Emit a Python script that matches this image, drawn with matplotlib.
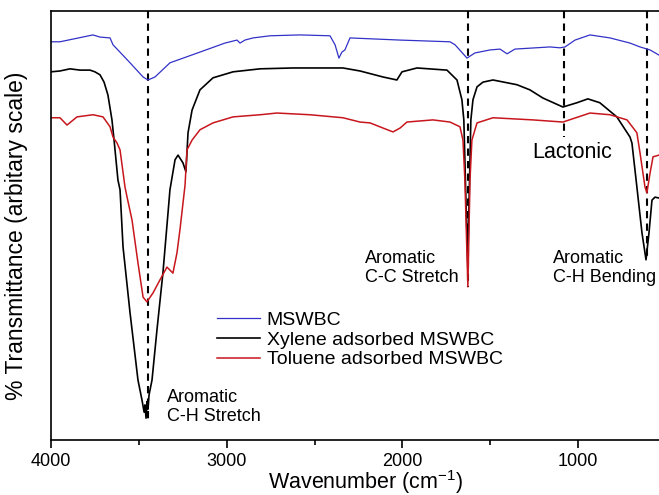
import numpy as np
import matplotlib
matplotlib.use("Agg")
import matplotlib.pyplot as plt

plt.rcParams['font.family'] = ['Liberation Sans', 'DejaVu Sans']
plt.rcParams['mathtext.fontset'] = 'custom'
plt.rcParams['mathtext.rm'] = 'Liberation Sans'
plt.rcParams['mathtext.default'] = 'regular'

# -----------------------------------------------------------
# DATA (arbitrary units)
# -----------------------------------------------------------
wn_mswbc = [4000, 3949, 3761, 3721, 3664, 3647, 3550, 3476, 3448, 3408, 3323, 3152,
            3010, 2941, 2924, 2896, 2850, 2753, 2583, 2412, 2383, 2361, 2344, 2327,
            2298, 2013, 1729, 1700, 1632, 1587, 1501, 1444, 1404, 1359, 1160, 1103,
            1074, 1017, 932, 818, 704, 647, 590, 539, 505]
t_mswbc = [92.8, 92.8, 94.4, 93.9, 93.7, 92.1, 87.9, 84.6, 83.9, 84.6, 87.9, 90.4,
           92.5, 93.2, 92.5, 93.2, 93.7, 94.2, 94.4, 94.2, 92.1, 89.0, 90.4, 90.9,
           93.7, 93.2, 92.8, 92.1, 89.0, 90.2, 90.9, 91.1, 90.0, 91.1, 91.6, 91.4,
           91.6, 93.2, 94.4, 93.7, 92.5, 91.6, 90.9, 89.7, 89.3]

wn_xylene = [4000, 3949, 3892, 3835, 3778, 3750, 3721, 3698, 3676, 3653, 3641, 3619,
             3607, 3590, 3550, 3505, 3482, 3470, 3465, 3459, 3453, 3448, 3442, 3425,
             3397, 3363, 3334, 3323, 3294, 3277, 3249, 3232, 3220, 3197, 3152, 3078,
             2964, 2810, 2622, 2338, 2241, 2110, 2031, 2002, 1917, 1746, 1689, 1661,
             1650, 1638, 1628, 1620, 1610, 1598, 1575, 1541, 1484, 1348, 1274, 1200,
             1086, 1006, 944, 876, 779, 704, 693, 665, 636, 613, 596, 579, 562, 539, 505]
t_xylene = [85.8, 86.0, 86.5, 86.2, 86.2, 85.8, 85.1, 83.4, 80.4, 74.6, 69.9, 60.6,
            58.3, 45.0, 29.6, 14.0, 9.3, 6.5, 8.2, 5.1, 9.0, 7.2, 10.5, 14.0,
            25.6, 38.9, 52.9, 58.3, 65.3, 66.4, 64.6, 62.5, 71.6, 76.9, 81.6, 84.4,
            85.8, 86.5, 86.7, 86.7, 86.0, 84.6, 83.9, 85.8, 86.7, 86.2, 83.9, 79.3,
            74.6, 55.9, 41.5, 55.9, 74.6, 79.3, 82.3, 83.4, 83.9, 82.8, 81.6, 79.7,
            77.6, 78.6, 79.5, 78.6, 75.3, 70.6, 69.2, 59.0, 48.3, 42.0, 48.3, 55.9, 56.6, 56.4, 55.9]

wn_toluene = [4000, 3949, 3909, 3852, 3761, 3704, 3664, 3647, 3624, 3607, 3579, 3567,
              3539, 3505, 3476, 3454, 3419, 3380, 3340, 3306, 3283, 3266, 3237, 3226,
              3197, 3152, 3078, 2964, 2810, 2714, 2526, 2338, 2241, 2184, 2110, 2053,
              2013, 1974, 1826, 1729, 1672, 1655, 1644, 1627, 1615, 1604, 1575, 1484,
              1257, 1086, 932, 818, 721, 665, 647, 619, 608, 590, 573, 539, 505]
t_toluene = [75.1, 75.1, 73.4, 75.3, 75.8, 75.3, 73.0, 70.6, 69.2, 67.6, 59.0, 56.6,
             51.3, 41.3, 33.3, 32.2, 34.3, 37.3, 40.3, 38.9, 43.6, 49.0, 59.4, 67.6,
             69.9, 72.3, 73.9, 75.3, 75.8, 76.2, 75.8, 75.1, 74.1, 73.9, 72.7, 71.8,
             72.7, 74.1, 74.6, 74.1, 73.0, 69.9, 60.6, 35.7, 60.6, 69.9, 73.9, 75.1,
             74.6, 74.1, 76.2, 75.8, 74.6, 71.6, 66.9, 59.0, 57.6, 62.2, 66.0, 66.4, 66.4]

# band markers: position and how far down the dashed line runs
band_pos = [3450, 1627, 1080, 608]
band_end = [4.9, 35.7, 70.6, 42.0]

labels = ["MSWBC", "Xylene adsorbed MSWBC", "Toluene adsorbed MSWBC"]
colors = ["#3232c8", "#000000", "#c8161d"]

# -----------------------------------------------------------
# PLOT
# -----------------------------------------------------------
fig = plt.figure(figsize=(6.59, 4.95), dpi=100)
ax = fig.add_axes([0.0774, 0.111, 0.933, 0.867])

ax.plot(wn_mswbc, t_mswbc, color=colors[0], lw=0.9, label=labels[0])
ax.plot(wn_xylene, t_xylene, color=colors[1], lw=1.2, label=labels[1])
ax.plot(wn_toluene, t_toluene, color=colors[2], lw=1.1, label=labels[2])

for pos, end in zip(band_pos, band_end):
    ax.plot([pos, pos], [100, end], color='black', lw=1.5,
            linestyle=(0, (3.5, 2.5)), zorder=1)

ax.set_xlim(4000, 500)
ax.set_ylim(0, 100)
ax.set_xticks([4000, 3000, 2000, 1000])
ax.set_xticks([3500, 2500, 1500], minor=True)
ax.tick_params(axis='x', which='major', direction='out', length=6, width=1.2,
               labelsize=13, pad=3)
ax.tick_params(axis='x', which='minor', direction='out', length=3.5, width=1.2)
ax.set_yticks([])
for sp in ax.spines.values():
    sp.set_linewidth(1.2)

ax.set_xlabel(r'Wavenumber (cm$^{-1}$)', fontsize=15.5)
ax.xaxis.set_label_coords(0.512, -0.066)
ax.set_ylabel('% Transmittance (arbitary scale)', fontsize=16.5)
ax.yaxis.set_label_coords(-0.037, 0.476)

# annotations
ax.text(3340, 11.9, "Aromatic\nC-H Stretch", fontsize=13, va='top', ha='left', linespacing=1.15)
ax.text(2213, 44.3, "Aromatic\nC-C Stretch", fontsize=13, va='top', ha='left', linespacing=1.15)
ax.text(1143, 44.3, "Aromatic\nC-H Bending", fontsize=13, va='top', ha='left', linespacing=1.15)
ax.text(1262, 67.1, "Lactonic", fontsize=15.5, va='center', ha='left')

ax.legend(loc='upper left', bbox_to_anchor=(217 / 659, 1 - 311 / 495),
          bbox_transform=fig.transFigure, frameon=False, fontsize=14,
          handlelength=2.2, handletextpad=0.35, labelspacing=0.12,
          borderpad=0, borderaxespad=0)

fig.savefig("out.png", dpi=100)
